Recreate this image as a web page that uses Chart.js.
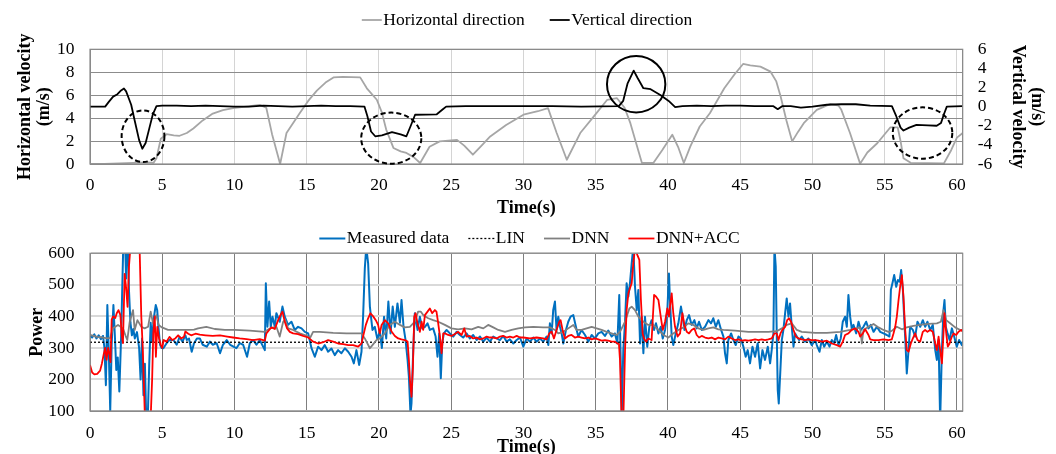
<!DOCTYPE html>
<html><head><meta charset="utf-8">
<script src="https://cdn.jsdelivr.net/npm/chart.js@4.4.1/dist/chart.umd.min.js"></script>
<style>
html,body{margin:0;padding:0;background:#fff;overflow:hidden;width:1056px;height:454px;}
#w1{position:absolute;left:0;top:0;width:1056px;height:225px;}
#w2{position:absolute;left:0;top:216px;width:1056px;height:254px;}
</style></head><body>
<div id="w1"><canvas id="c1"></canvas></div>
<div id="w2"><canvas id="c2"></canvas></div>
<script>
// ---------- DATA ----------
const xTicks = [0,5,10,15,20,25,30,35,40,45,50,55,60];

// Top panel: [time s, horizontal velocity m/s]
const horizontal = [[0,0],[1,0],[2,0.05],[3,0.1],[4,0.15],[4.4,0.1],[4.6,0.5],[4.9,2.2],[5.3,2.6],[5.8,2.5],[6.2,2.46],[6.7,2.7],[7.15,3.1],[7.8,3.8],[8.5,4.4],[9.2,4.7],[9.9,4.87],[10.8,5.0],[11.75,5.15],[12.2,4.9],[12.6,2.6],[13.16,0],[13.6,2.7],[14.5,4.4],[15.1,5.5],[15.7,6.4],[16.3,7.1],[16.85,7.55],[17.5,7.6],[18.7,7.55],[19.16,6.6],[19.85,5.6],[20.2,4.5],[20.5,3.0],[21.0,1.4],[21.5,1.1],[21.9,0.96],[22.4,0.6],[22.85,0.09],[23.5,1.5],[24.2,1.97],[25.4,2.1],[25.9,1.6],[26.5,0.81],[27.1,1.6],[27.7,2.4],[28.8,3.4],[30.0,4.3],[31.0,4.6],[31.7,4.87],[32.3,2.7],[33.0,0.37],[33.93,2.7],[34.9,4.2],[35.8,5.6],[36.46,5.75],[37.0,4.9],[37.4,3.56],[37.8,1.8],[38.2,0.09],[39.0,0.1],[39.6,1.2],[40.3,2.55],[40.7,1.5],[41.1,0.09],[41.55,1.53],[42.2,3.27],[42.9,4.43],[43.9,6.6],[44.6,7.8],[45.2,8.72],[45.7,8.6],[46.4,8.49],[47.1,8.05],[47.5,7.2],[47.8,5.88],[48.2,3.8],[48.6,1.97],[49.0,2.8],[49.4,3.56],[50.3,4.72],[51.25,5.24],[51.8,5.1],[52.0,4.72],[52.6,2.7],[53.3,0.03],[53.8,1.0],[54.5,1.83],[55.4,3.2],[55.9,3.2],[56.1,2.0],[56.3,0.5],[56.8,0.1],[59.1,0.05],[59.6,1.2],[60.0,2.3],[60.4,2.7]];

// Top panel: [time s, vertical velocity m/s]
const vertical = [[0,0],[1.05,0],[1.3,0.5],[1.6,1.05],[1.9,1.3],[2.15,1.7],[2.35,1.9],[2.5,1.6],[2.7,0.8],[2.85,0.2],[3.1,-1.5],[3.4,-3.5],[3.62,-4.4],[3.85,-3.8],[4.1,-2.3],[4.35,-0.8],[4.6,0.05],[5,0.1],[6,0.1],[7,0.05],[8,0.1],[9,0.05],[10,0],[11,0],[12,0.1],[13,0.05],[14,0],[15,0.05],[16,0.1],[17,0.05],[18,0.05],[19.0,0],[19.2,-1.0],[19.45,-2.6],[19.74,-3.1],[20.2,-3.0],[20.9,-2.66],[21.5,-2.9],[21.9,-3.1],[22.2,-2.0],[22.5,-0.85],[24.0,-0.8],[24.4,-0.3],[24.65,0],[26,0.05],[28,0.05],[30,0.05],[32,0.05],[34,0],[36.6,0.05],[36.9,0.6],[37.2,2.4],[37.63,3.77],[37.9,3.0],[38.3,1.93],[38.8,1.83],[39.5,1.2],[40.05,0.6],[40.5,-0.05],[41,0.05],[42,0.1],[43,0.05],[44,0.1],[45,0.1],[46,0.05],[47.3,0.05],[47.6,-0.26],[47.9,0.05],[48.5,0.05],[49.2,-0.1],[50,0],[51,0.2],[52,0.25],[53,0.25],[54,0.1],[55.5,0.05],[55.8,-1.0],[56.1,-2.2],[56.3,-2.5],[56.7,-2.2],[57.2,-1.9],[58.0,-1.95],[58.6,-2.0],[58.9,-1.7],[59.1,-0.8],[59.3,0],[60.4,0.05]];

// Highlight rings on top panel: centre (time, horizontal velocity), radii in the same units
const rings = [
  {t:3.67, v:2.42, rt:1.48, rv:2.25, dashed:true},
  {t:20.85, v:2.25, rt:2.08, rv:2.23, dashed:true},
  {t:37.8, v:6.96, rt:2.02, rv:2.46, dashed:false},
  {t:57.62, v:2.7, rt:2.06, rv:2.24, dashed:true}
];

// Bottom panel: [time s, power]
const measured = [[0,340],[0.15,333],[0.3,343],[0.45,330],[0.6,340],[0.75,328],[0.9,338],[1.0,300],[1.1,182],[1.2,436],[1.3,290],[1.4,100],[1.5,310],[1.62,436],[1.72,340],[1.82,230],[1.92,270],[2.03,162],[2.15,330],[2.3,620],[2.4,680],[2.5,520],[2.6,700],[2.7,480],[2.8,380],[2.9,340],[3.0,360],[3.1,330],[3.25,350],[3.4,300],[3.5,200],[3.6,330],[3.7,150],[3.8,250],[3.9,60],[4.0,80],[4.1,250],[4.2,380],[4.3,320],[4.4,390],[4.55,436],[4.65,420],[4.75,360],[4.85,310],[4.95,300],
[5.08,299],[5.3,315],[5.5,325],[5.77,325],[6.0,310],[6.2,335],[6.4,320],[6.6,340],[6.7,325],[6.85,330],[7.04,288],[7.2,315],[7.4,330],[7.6,330],[7.8,310],[8.08,304],[8.3,320],[8.5,310],[8.77,315],[9.0,283],[9.2,310],[9.46,325],[9.7,310],[9.93,304],
[10.13,299],[10.36,315],[10.6,310],[10.87,272],[11.06,315],[11.29,325],[11.52,310],[11.75,325],[11.98,304],[12.1,293],[12.17,505],[12.28,367],[12.4,447],[12.51,367],[12.63,399],[12.79,367],[12.9,410],[13.13,383],[13.32,431],[13.48,399],[13.71,373],[13.94,383],[14.17,357],[14.4,367],[14.64,362],[14.87,351],[15.1,346],[15.33,299],[15.56,272],[15.79,304],[16.02,293],[16.25,309],[16.48,288],[16.71,298],[16.94,277],[17.17,293],[17.4,283],[17.64,299],[17.87,288],[18.1,272],[18.26,251],[18.44,293],[18.63,246],[18.79,288],[18.9,399],[19.02,552],[19.12,620],[19.25,568],[19.37,431],[19.55,357],[19.71,367],[19.88,330],
[20.06,350],[20.2,300],[20.35,399],[20.5,330],[20.65,447],[20.8,346],[20.95,431],[21.1,367],[21.28,441],[21.45,380],[21.56,452],[21.7,367],[21.84,325],[21.98,262],[22.07,209],[22.18,90],[22.25,124],[22.37,293],[22.48,410],[22.67,357],[22.83,399],[22.99,362],[23.18,367],[23.36,378],[23.52,357],[23.75,362],[23.92,336],[24.05,272],[24.17,346],[24.28,204],[24.38,315],[24.49,346],[24.68,357],[24.91,346],[25.14,336],[25.37,351],[25.6,341],[25.83,333],[26.06,346],[26.29,330],[26.52,341],[26.76,325],[26.99,336],[27.22,320],[27.45,333],[27.68,320],[27.91,336],[28.14,330],[28.37,325],[28.6,338],[28.83,320],[29.06,327],[29.3,314],[29.53,325],[29.76,333],[29.99,304],
[30.22,330],[30.45,320],[30.68,333],[30.91,320],[31.14,330],[31.37,320],[31.6,336],[31.72,309],[31.83,378],[31.95,346],[32.06,420],[32.18,447],[32.29,357],[32.41,399],[32.53,367],[32.64,346],[32.76,314],[32.94,357],[33.1,383],[33.26,399],[33.45,404],[33.63,367],[33.79,336],[34.02,357],[34.26,341],[34.49,320],[34.72,341],[34.95,330],[35.18,346],[35.41,351],[35.64,338],[35.87,355],[36.1,336],[36.33,346],[36.5,314],[36.63,468],[36.73,262],[36.8,80],[36.91,293],[37.03,383],[37.14,505],[37.26,463],[37.37,505],[37.49,568],[37.6,620],[37.72,494],[37.84,420],[37.95,484],[38.07,314],[38.18,399],[38.3,283],[38.41,399],[38.57,304],[38.71,367],[38.87,388],[39.04,357],[39.17,378],[39.34,346],[39.5,367],[39.64,330],[39.8,357],[39.96,420],[40.07,536],
[40.14,452],[40.26,336],[40.37,309],[40.54,346],[40.72,378],[40.9,431],[41.02,399],[41.14,357],[41.3,388],[41.46,404],[41.64,373],[41.83,388],[41.99,362],[42.15,383],[42.34,357],[42.57,367],[42.8,388],[42.98,378],[43.14,394],[43.31,367],[43.49,388],[43.68,357],[43.84,336],[43.95,283],[44.07,251],[44.18,325],[44.37,346],[44.53,325],[44.69,309],[44.88,336],[45.04,330],[45.22,304],[45.38,272],[45.52,293],[45.68,251],[45.85,304],[46.03,272],[46.21,315],[46.38,235],[46.54,293],[46.72,262],[46.91,304],[47.07,251],[47.18,293],[47.3,346],[47.37,620],[47.46,558],[47.53,346],[47.6,166],[47.67,124],[47.76,209],[47.88,325],[47.99,357],[48.11,410],[48.22,457],[48.34,399],[48.45,441],[48.57,367],[48.69,304],[48.8,346],[48.92,336],[49.08,325],[49.26,336],[49.49,320],[49.72,330],[49.95,309],
[50.2,325],[50.3,309],[50.49,288],[50.65,325],[50.81,304],[51.0,320],[51.18,304],[51.34,325],[51.5,315],[51.64,341],[51.8,309],[51.96,330],[52.1,383],[52.26,399],[52.38,367],[52.49,468],[52.61,399],[52.72,362],[52.84,373],[53.03,346],[53.19,383],[53.35,357],[53.53,367],[53.72,383],[53.88,362],[54.04,373],[54.23,351],[54.46,367],[54.69,351],[54.92,346],[55.15,341],[55.33,336],[55.43,484],[55.56,510],[55.66,531],[55.8,494],[55.91,515],[56.03,510],[56.14,547],[56.26,484],[56.35,394],[56.44,314],[56.53,219],[56.65,293],[56.76,367],[56.95,357],[57.11,336],[57.27,383],[57.46,367],[57.64,388],[57.8,367],[57.96,383],[58.15,357],[58.33,373],[58.5,293],[58.61,262],[58.73,325],[58.84,70],[58.96,293],[59.07,420],[59.14,452],[59.23,367],[59.35,346],[59.49,325],[59.65,362],[59.81,336],[59.99,304],[60.15,325],[60.34,309],[60.4,320]];

const linModel = [[0,318],[60.4,318]];

const dnn = [[0,341],[0.5,335],[0.9,333],[1.2,330],[1.4,332],[1.59,362],[1.94,373],[2.28,362],[2.45,340],[2.58,325],[2.75,383],[2.98,420],[3.09,357],[3.28,388],[3.55,367],[3.78,362],[4.02,367],[4.2,415],[4.36,378],[4.59,404],[4.75,373],[4.98,365],[5.4,357],[6.32,357],[6.79,357],[7.2,358],[7.48,362],[8.05,367],[8.63,360],[9.33,357],[10.02,357],[11.06,355],[12.1,351],[12.44,362],[12.9,367],[13.13,336],[13.37,383],[13.5,390],[13.71,362],[14.06,357],[14.52,346],[14.87,341],[15.1,336],[15.26,334],[15.44,351],[15.9,351],[16.83,348],[17.75,346],[18.79,346],[19.02,330],[19.37,299],[19.55,309],[19.83,325],[20.06,330],[20.41,346],[20.75,373],[21.1,383],[21.45,373],[21.79,365],[22.14,367],[22.48,383],[22.71,415],[22.9,415],[23.06,404],[23.41,394],[23.75,388],[24.1,383],[24.56,373],[25.02,362],[25.48,359],[25.95,362],[26.41,359],[26.87,367],[27.22,362],[27.56,373],[27.91,365],[28.26,357],[28.72,351],[29.18,357],[29.64,362],[30.1,365],[30.68,367],[31.37,365],[31.83,365],[32.18,357],[32.41,346],[32.76,351],[33.1,362],[33.45,373],[33.68,357],[34.02,357],[34.37,362],[34.72,367],[35.06,362],[35.41,357],[35.76,351],[36.1,346],[36.45,341],[36.68,351],[37.03,383],[37.33,425],[37.49,431],[37.72,420],[37.95,399],[38.3,383],[38.64,373],[38.99,373],[39.34,357],[39.68,341],[40.03,333],[40.37,346],[40.72,357],[41.07,365],[41.41,378],[41.76,373],[42.11,362],[42.45,357],[42.8,362],[43.14,365],[43.49,359],[43.84,357],[44.65,355],[45.57,351],[46.95,351],[47.53,353],[47.88,362],[48.22,373],[48.57,378],[48.92,357],[49.26,351],[50.2,348],[51.0,348],[51.92,351],[52.61,357],[53.07,362],[53.3,365],[53.42,314],[53.53,357],[53.88,367],[54.23,376],[54.57,365],[54.92,357],[55.26,351],[55.49,354],[55.84,367],[56.19,359],[56.53,365],[56.99,370],[57.46,373],[58.03,376],[58.61,378],[58.89,383],[59.07,420],[59.26,388],[59.53,378],[59.88,365],[60.23,357],[60.4,355]];

const dnnAcc = [[0,246],[0.15,222],[0.3,216],[0.5,218],[0.7,228],[0.82,250],[0.95,280],[1.05,300],[1.15,262],[1.25,300],[1.35,280],[1.42,255],[1.5,390],[1.6,400],[1.75,395],[1.85,410],[1.97,420],[2.1,405],[2.2,340],[2.28,315],[2.4,535],[2.5,490],[2.6,430],[2.7,560],[2.85,650],[3.0,700],[3.3,700],[3.42,640],[3.55,400],[3.65,300],[3.8,80],[4.2,80],[4.3,200],[4.38,346],[4.48,400],[4.56,272],[4.66,367],[4.78,330],[4.9,310],[5.0,300],[5.1,325],[5.3,320],[5.5,335],[5.7,325],[5.9,330],[6.1,340],[6.3,330],[6.5,335],[6.6,352],[6.8,345],[7.0,340],[7.3,345],[7.6,342],[8.0,340],[8.5,338],[9.0,340],[9.5,336],[9.9,333],
[10.36,330],[10.83,328],[11.29,325],[11.75,328],[12.1,323],[12.21,346],[12.4,357],[12.56,365],[12.79,360],[13.02,388],[13.18,404],[13.32,415],[13.48,383],[13.64,362],[13.83,351],[14.06,346],[14.4,344],[14.75,338],[15.1,333],[15.44,320],[15.79,314],[16.14,318],[16.48,325],[16.83,320],[17.17,314],[17.52,312],[17.87,309],[18.21,309],[18.56,304],[18.79,314],[18.9,336],[19.09,373],[19.25,394],[19.41,410],[19.6,400],[19.78,388],[19.94,373],
[20.06,346],[20.18,373],[20.41,388],[20.64,378],[20.87,352],[21.1,338],[21.33,330],[21.56,327],[21.79,325],[21.98,320],[22.07,262],[22.16,188],[22.25,145],[22.35,240],[22.44,399],[22.53,410],[22.67,378],[22.83,351],[22.95,383],[23.06,357],[23.18,404],[23.36,415],[23.52,425],[23.68,410],[23.87,420],[23.98,415],[24.1,378],[24.22,336],[24.33,283],[24.45,346],[24.56,346],[24.79,341],[25.02,338],[25.25,344],[25.48,351],[25.72,341],[25.9,362],[26.06,336],[26.29,338],[26.52,330],[26.76,333],[26.99,327],[27.22,330],[27.45,336],[27.68,333],[27.91,333],[28.14,330],[28.37,336],[28.6,338],[28.83,333],[29.06,336],[29.3,333],[29.53,338],[29.76,333],[29.99,333],
[30.45,330],[30.91,333],[31.37,330],[31.6,327],[31.79,346],[31.95,352],[32.11,330],[32.29,357],[32.48,383],[32.57,388],[32.71,357],[32.87,330],[33.1,338],[33.33,341],[33.56,333],[33.79,336],[34.02,333],[34.26,330],[34.49,333],[34.72,327],[34.95,330],[35.18,327],[35.41,323],[35.64,325],[35.87,323],[36.1,320],[36.33,320],[36.5,314],[36.61,312],[36.68,262],[36.8,70],[36.91,70],[37.03,293],[37.14,420],[37.26,473],[37.37,489],[37.49,505],[37.6,568],[37.72,615],[37.88,595],[38.02,579],[38.13,452],[38.25,346],[38.34,330],[38.48,320],[38.64,330],[38.87,325],[39.04,468],[39.17,463],[39.34,452],[39.5,399],[39.64,357],[39.8,383],[39.96,425],[40.07,399],
[40.14,431],[40.26,473],[40.37,410],[40.49,367],[40.67,336],[40.84,346],[41.0,410],[41.14,373],[41.3,351],[41.46,346],[41.64,357],[41.83,362],[41.99,341],[42.15,333],[42.34,338],[42.57,333],[42.8,330],[43.03,333],[43.26,327],[43.49,333],[43.72,330],[43.95,327],[44.18,336],[44.41,330],[44.65,325],[44.88,327],[45.1,323],[45.34,325],[45.57,323],[45.8,325],[46.03,327],[46.26,325],[46.49,327],[46.72,325],[46.95,327],[47.18,330],[47.37,346],[47.53,346],[47.65,325],[47.79,346],[47.92,357],[48.11,367],[48.25,388],[48.38,394],[48.52,383],[48.69,357],[48.85,336],[49.03,330],[49.26,327],[49.49,325],[49.72,327],[49.95,325],[50.2,325],
[50.42,323],[50.65,320],[51.0,323],[51.34,314],[51.69,309],[51.92,304],[52.1,320],[52.26,341],[52.49,346],[52.72,357],[52.96,362],[53.19,351],[53.3,336],[53.49,346],[53.65,359],[53.88,341],[54.0,327],[54.23,325],[54.57,325],[54.92,327],[55.26,325],[55.49,327],[55.61,346],[55.73,367],[55.84,399],[55.96,452],[56.07,494],[56.19,531],[56.3,463],[56.42,357],[56.53,293],[56.65,288],[56.81,314],[56.95,330],[57.11,346],[57.27,325],[57.46,320],[57.64,351],[57.8,357],[57.96,351],[58.15,357],[58.33,351],[58.5,314],[58.61,293],[58.73,336],[58.84,293],[58.96,251],[59.07,346],[59.14,410],[59.26,346],[59.37,304],[59.49,314],[59.65,336],[59.77,346],[59.95,341],[60.11,351],[60.3,357],[60.4,352]];

// ---------- RENDER ----------
const FONT = "'Liberation Serif','Times New Roman',serif";
Chart.defaults.font.family = FONT;
Chart.defaults.color = '#000';
const pts = a => a.map(p => ({x:p[0], y:p[1]}));
const TICK = {size:17.5};
const TITLE = {size:18, weight:'bold', lineHeight:1.1};

// legend drawn from the datasets' own labels / colours / dashes
function lineLegend(cfg){
  return {id:'lineLegend', afterDraw(chart){
    const ctx = chart.ctx; const ds = chart.data.datasets;
    ctx.save(); ctx.font = '17.5px ' + FONT; ctx.textBaseline = 'middle'; ctx.textAlign = 'left';
    const widths = ds.map(d => cfg.line + cfg.gap + ctx.measureText(d.label).width);
    const total = widths.reduce((a,b) => a + b, 0) + cfg.space * (ds.length - 1);
    let x = cfg.cx - total / 2;
    ds.forEach((d, i) => {
      ctx.beginPath(); ctx.strokeStyle = d.borderColor; ctx.lineWidth = d.borderWidth;
      ctx.setLineDash(d.borderDash || []);
      ctx.moveTo(x, cfg.y); ctx.lineTo(x + cfg.line, cfg.y); ctx.stroke(); ctx.setLineDash([]);
      ctx.fillStyle = '#000'; ctx.fillText(d.label, x + cfg.line + cfg.gap, cfg.y);
      x += widths[i] + cfg.space;
    });
    ctx.restore();
  }};
}
const frame = {id:'frame', afterDatasetsDraw(chart){
  const {ctx, chartArea:a} = chart;
  ctx.save(); ctx.strokeStyle = '#8a8a8a'; ctx.lineWidth = 1.2;
  ctx.strokeRect(a.left, a.top, a.right - a.left, a.bottom - a.top); ctx.restore();
}};
const ringPlugin = {id:'rings', afterDatasetsDraw(chart){
  const {ctx} = chart; const sx = chart.scales.x, sy = chart.scales.y;
  ctx.save(); ctx.strokeStyle = '#000'; ctx.lineWidth = 2;
  rings.forEach(r => {
    const cx = sx.getPixelForValue(r.t), cy = sy.getPixelForValue(r.v);
    const rx = Math.abs(sx.getPixelForValue(r.t + r.rt) - cx);
    const ry = Math.abs(sy.getPixelForValue(r.v + r.rv) - cy);
    ctx.setLineDash(r.dashed ? [5,3] : []);
    ctx.beginPath(); ctx.ellipse(cx, cy, rx, ry, 0, 0, Math.PI*2); ctx.stroke();
  });
  ctx.restore();
}};

function xScale(h, tickPad, titlePad, gridColor){
  return {type:'linear', min:0, max:60.4,
    afterBuildTicks: s => { s.ticks = xTicks.map(v => ({value:v})); },
    ticks:{font:TICK, padding:tickPad, maxRotation:0, autoSkip:false},
    grid:{color:gridColor, lineWidth:1, drawTicks:false},
    border:{color:'#8a8a8a'},
    title:{display:true, text:'Time(s)', font:TITLE, padding:{top:0, bottom:titlePad}},
    afterFit: s => { s.height = h; }};
}

const common = {responsive:true, maintainAspectRatio:false, animation:false, devicePixelRatio:1,
  elements:{point:{radius:0}, line:{tension:0, borderJoinStyle:'round'}}};

new Chart(document.getElementById('c1'), {
  type:'line',
  data:{datasets:[
    {label:'Horizontal direction', data:pts(horizontal), yAxisID:'y', borderColor:'#a6a6a6', backgroundColor:'#a6a6a6', borderWidth:1.8, order:2},
    {label:'Vertical direction', data:pts(vertical), yAxisID:'y2', borderColor:'#000', backgroundColor:'#000', borderWidth:1.8, order:1}
  ]},
  options:Object.assign({}, common, {
    layout:{padding:{top:49.3}},
    plugins:{tooltip:{enabled:false}, legend:{display:false}},
    scales:{
      x:xScale(61, 10.5, 7, '#d4d4d4'),
      y:{position:'left', min:0, max:10, ticks:{stepSize:2, font:TICK, padding:15.5, autoSkip:false},
        grid:{color:'#8c8c8c', drawTicks:false}, border:{color:'#8a8a8a'},
        title:{display:true, text:['Horizontal velocity','(m/s)'], font:TITLE, padding:{top:15, bottom:0}},
        afterFit: s => { s.width = 90; }},
      y2:{position:'right', min:-6, max:6, ticks:{stepSize:2, font:TICK, padding:15, autoSkip:false},
        grid:{display:false, drawTicks:false}, border:{color:'#8a8a8a'},
        title:{display:true, text:['(m/s)','Vertical velocity'], font:TITLE, padding:{top:9, bottom:0}},
        afterFit: s => { s.width = 93.3; }}
    }
  }),
  plugins:[lineLegend({cx:527, y:20, line:20, gap:1.5, space:25}), frame, ringPlugin]
});

new Chart(document.getElementById('c2'), {
  type:'line',
  data:{datasets:[
    {label:'Measured data', data:pts(measured), borderColor:'#0070c0', backgroundColor:'#0070c0', borderWidth:2, order:4},
    {label:'LIN', data:pts(linModel), borderColor:'#000', backgroundColor:'#000', borderWidth:1.3, borderDash:[2,2], order:3},
    {label:'DNN', data:pts(dnn), borderColor:'#808080', backgroundColor:'#808080', borderWidth:1.8, order:2},
    {label:'DNN+ACC', data:pts(dnnAcc), borderColor:'#ff0000', backgroundColor:'#ff0000', borderWidth:1.8, order:1}
  ]},
  options:Object.assign({}, common, {
    layout:{padding:{top:37.3, right:93.3}},
    plugins:{tooltip:{enabled:false}, legend:{display:false}},
    scales:{
      x:xScale(59, 11.5, 13, '#7f7f7f'),
      y:{position:'left', min:100, max:600, ticks:{stepSize:100, font:TICK, padding:15.5, autoSkip:false},
        grid:{color:'#d9d9d9', lineWidth:2, drawTicks:false}, border:{color:'#8a8a8a'},
        title:{display:true, text:'Power', font:TITLE, padding:{top:27, bottom:0}},
        afterFit: s => { s.width = 90; }}
    }
  }),
  plugins:[lineLegend({cx:529.5, y:22.5, line:26, gap:1.5, space:19}), frame]
});
</script>
</body></html>
